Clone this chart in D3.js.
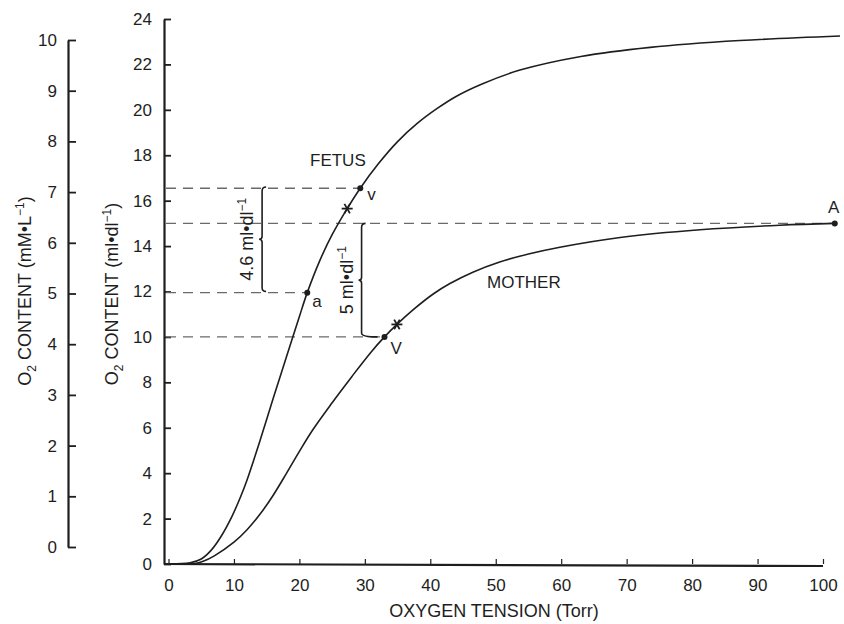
<!DOCTYPE html>
<html><head><meta charset="utf-8">
<script src="https://cdn.jsdelivr.net/npm/d3@7"></script>
<style>
body{margin:0;background:#fff}
svg{display:block}
text{font-family:"Liberation Sans",Arial,Helvetica,sans-serif;fill:#1e1e1e}
</style>
</head><body>
<svg id="c" width="844" height="624"></svg>
<script>
// ---- data ----
const tensionTicks = [0,10,20,30,40,50,60,70,80,90,100];
const contentTicks = [0,2,4,6,8,10,12,14,16,18,20,22,24];
const mmolTicks = [0,1,2,3,4,5,6,7,8,9,10];

const fetusTension = [0,3.3,5,6.5,8,9.7,11,12,14,16,18,20,21.2,23.1,25,27.3,29.3,32,35,38,41,44,48,53.7,63,73.6,87.3,102.6];
const fetusContent = [0,0.05,0.22,0.6,1.2,2.1,2.95,3.7,5.45,7.3,9.1,10.9,11.95,13.35,14.5,15.65,16.55,17.6,18.6,19.4,20.05,20.6,21.15,21.75,22.35,22.75,23.05,23.25];

const motherTension = [0,4,5.3,7,10,12,14,16,18,20,22,25,28,31,33,34.9,37.4,40.5,43,46.5,50.6,55,59.8,69,81.2,93.4,101.8];
const motherContent = [0,0.02,0.12,0.36,0.96,1.51,2.2,3.03,3.98,4.96,5.89,7.1,8.25,9.35,10,10.55,11.2,11.9,12.35,12.85,13.3,13.65,13.95,14.38,14.72,14.92,15.0];

const pointNames = ["v","a","V","A"];
const pointTension = [29.3,21.2,33,101.8];
const pointContent = [16.55,11.95,10,15];

const starTension = [27.3,34.9];
const starContent = [15.65,10.55];

const bracketTension = [14.3,29.5];
const bracketFrom = [12,10];
const bracketTo = [16.6,15];
const bracketLabels = ["4.6","5"];

const curveLabels = ["FETUS","MOTHER"];

// ---- scales ----
const svg = d3.select("#c");
const x = d3.scaleLinear([0,100],[168.5,823]);
const y = d3.scaleLinear([0,24],[564,19]);
const yL = d3.scaleLinear([0,10],[547,40]);
const X0 = 164, XL = 68;
const ink = "#1e1e1e";

// ---- axes ----
function styleAxis(g){
  g.selectAll("text").attr("font-size",17).attr("fill",ink).attr("font-family",'"Liberation Sans",Arial,sans-serif');
  g.selectAll("line").attr("stroke",ink).attr("stroke-width",1.8);
  g.selectAll(".domain").attr("stroke",ink).attr("stroke-width",2.2);
}
const gY = svg.append("g").attr("transform",`translate(${X0},0)`)
  .call(d3.axisLeft(y).tickValues(contentTicks).tickSizeInner(-7).tickSizeOuter(0).tickPadding(12));
styleAxis(gY);

const gL = svg.append("g").attr("transform",`translate(${XL},0)`)
  .call(d3.axisLeft(yL).tickValues(mmolTicks).tickSizeInner(-8).tickSizeOuter(0).tickPadding(11));
styleAxis(gL);

const gX = svg.append("g").attr("transform",`translate(0,${y(0)})`)
  .call(d3.axisBottom(x).tickValues(tensionTicks).tickSizeInner(-5).tickSizeOuter(0).tickPadding(15));
styleAxis(gX);
gX.select(".domain").remove();
gX.selectAll(".tick line").attr("stroke-width",1.2);
svg.append("line").attr("x1",X0).attr("x2",x(100)).attr("y1",y(0)).attr("y2",y(0)+2)
  .attr("stroke",ink).attr("stroke-width",2.2);

// ---- axis titles ----
function title(tx,ty,unit,unitSup){
  const t = svg.append("text").attr("transform",`translate(${tx},${ty}) rotate(-90)`)
    .attr("text-anchor","middle").attr("font-size",18);
  t.append("tspan").text("O");
  t.append("tspan").attr("dy",5).attr("font-size",12).text("2");
  t.append("tspan").attr("dy",-5).text(" CONTENT (" + unit);
  t.append("tspan").attr("dy",-7).attr("font-size",12).text(unitSup);
  t.append("tspan").attr("dy",7).text(")");
}
title(31,291,"mM•L","−1");
title(118,294,"ml•dl","−1");
svg.append("text").attr("x",494).attr("y",617).attr("text-anchor","middle")
  .attr("font-size",18).text("OXYGEN TENSION (Torr)");

// ---- dashed reference lines ----
svg.append("g").selectAll("line").data(pointNames).join("line")
  .attr("x1",X0+2).attr("x2",(d,i)=>x(pointTension[i]))
  .attr("y1",(d,i)=>y(pointContent[i])).attr("y2",(d,i)=>y(pointContent[i]))
  .attr("stroke","#6a6a6a").attr("stroke-width",1.4).attr("stroke-dasharray","10,7");

// ---- curves ----
const line = d3.line().x(d=>x(d[0])).y(d=>y(d[1])).curve(d3.curveCatmullRom.alpha(0.5));
const fetus = fetusTension.map((t,i)=>[t,fetusContent[i]]);
const mother = motherTension.map((t,i)=>[t,motherContent[i]]);
[fetus,mother].forEach(c=>{
  svg.append("path").attr("d",line(c)).attr("fill","none").attr("stroke",ink).attr("stroke-width",1.6);
});

// ---- brackets ----
bracketTension.forEach((bt,i)=>{
  const bx = x(bt), top = y(bracketTo[i]), bot = y(bracketFrom[i]), mid = (top+bot)/2;
  const hookB = i===1 ? 16 : 4;
  const p = d3.path();
  p.moveTo(bx+4,top); p.quadraticCurveTo(bx,top,bx,top+4);
  p.lineTo(bx,mid-3); p.quadraticCurveTo(bx,mid,bx-3,mid); p.quadraticCurveTo(bx,mid,bx,mid+3);
  p.lineTo(bx,bot-4); p.quadraticCurveTo(bx,bot,bx+hookB,bot);
  svg.append("path").attr("d",p.toString()).attr("fill","none").attr("stroke",ink).attr("stroke-width",1.6);
  const t = svg.append("text").attr("transform",`translate(${bx-9},${mid}) rotate(-90)`)
    .attr("text-anchor","middle").attr("font-size",18);
  t.append("tspan").text(bracketLabels[i] + " ml•dl");
  t.append("tspan").attr("dy",-7).attr("font-size",12).text("−1");
});

// ---- points ----
svg.append("g").selectAll("circle").data(pointNames).join("circle")
  .attr("cx",(d,i)=>x(pointTension[i])).attr("cy",(d,i)=>y(pointContent[i])).attr("r",3).attr("fill",ink);
const labelOff = {v:[7,12],a:[5,14],V:[6,17],A:[-1,-10]};
svg.append("g").selectAll("text").data(pointNames).join("text")
  .attr("x",(d,i)=>x(pointTension[i])+labelOff[d][0]).attr("y",(d,i)=>y(pointContent[i])+labelOff[d][1])
  .attr("font-size",17).attr("text-anchor",d=>d==="A"?"middle":"start").text(d=>d);

// ---- stars ----
starTension.forEach((st,i)=>{
  const cx = x(st), cy = y(starContent[i]), r = 5.5;
  [0,60,120].forEach(a=>{
    const rad = a*Math.PI/180;
    svg.append("line").attr("x1",cx-r*Math.cos(rad)).attr("y1",cy-r*Math.sin(rad))
      .attr("x2",cx+r*Math.cos(rad)).attr("y2",cy+r*Math.sin(rad))
      .attr("stroke",ink).attr("stroke-width",1.8);
  });
});

// ---- curve labels ----
svg.append("text").attr("x",310).attr("y",166).attr("font-size",17).text(curveLabels[0]);
svg.append("text").attr("x",487).attr("y",288).attr("font-size",17).text(curveLabels[1]);
</script>
</body></html>
